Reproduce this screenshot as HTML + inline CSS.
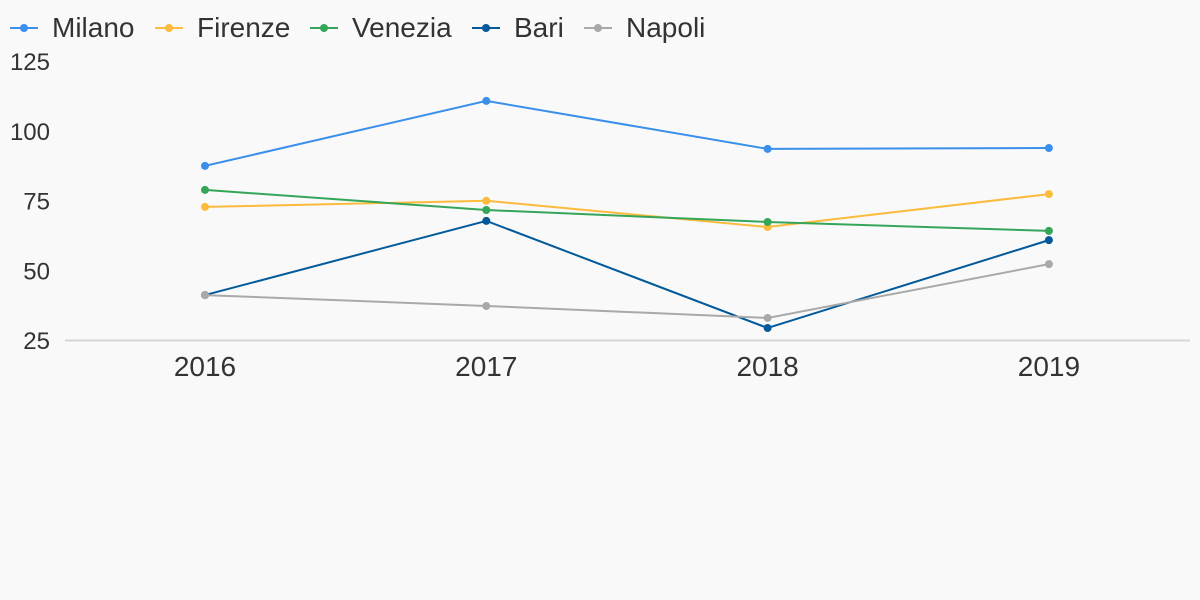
<!DOCTYPE html>
<html><head><meta charset="utf-8"><style>
html,body{margin:0;padding:0;background:#f9f9f9;}
svg{display:block;font-family:"Liberation Sans",sans-serif;}
</style></head><body>
<svg id="chart" width="1200" height="600">
<rect width="1200" height="600" fill="#f9f9f9"/>
<g id="legend"></g>
<g id="yaxis"></g>
<line x1="65" x2="1190" y1="340.5" y2="340.5" stroke="#d6d6d6" stroke-width="2"/>
<g id="xaxis"></g>
<g id="plot"></g>
</svg>
<script>
const categories = ["2016","2017","2018","2019"];
const seriesNames = ["Milano","Firenze","Venezia","Bari","Napoli"];
const milano = [87.4,110.7,93.5,93.8];
const firenze = [72.7,74.9,65.5,77.3];
const venezia = [78.8,71.6,67.3,64.1];
const bari = [41.1,67.7,29.3,60.8];
const napoli = [41.1,37.2,32.9,52.2];
const yTicks = [25,50,75,100,125];

const seriesData = [milano,firenze,venezia,bari,napoli];
const colors = ["#3a8fea","#fbbb3c","#35a55a","#035a9a","#a9a9a9"];
const NS = "http://www.w3.org/2000/svg";
function yScale(v){ return 340 - (v-25)*2.79; }
function xScale(i){ return 205 + i*281.3; }
function mk(tag, attrs, parent){ const e=document.createElementNS(NS,tag); for(const k in attrs) e.setAttribute(k,attrs[k]); parent.appendChild(e); return e; }

const yaxis=document.getElementById('yaxis');
yTicks.forEach(t=>{
  const e=mk('text',{x:50,y:yScale(t)+9,'text-anchor':'end','font-size':24,fill:'#333'},yaxis);
  e.textContent=t;
  
  
});
const xaxis=document.getElementById('xaxis');
categories.forEach((c,i)=>{
  const e=mk('text',{x:xScale(i),y:376,'text-anchor':'middle','font-size':28,fill:'#333'},xaxis);
  e.textContent=c;
  
  
});
const plot=document.getElementById('plot');
seriesData.forEach((vals,s)=>{
  const g=mk('g',{},plot);
  
  
  const pts=vals.map((v,i)=>xScale(i)+','+yScale(v)).join(' ');
  const pl=mk('polyline',{points:pts,fill:'none',stroke:colors[s],'stroke-width':2},g);
  
  
  vals.forEach((v,i)=>{
    const c=mk('circle',{cx:xScale(i),cy:yScale(v),r:4,fill:colors[s]},g);
    
    
  });
});
const legend=document.getElementById('legend');
const lx=[10,155,310,472,584];
seriesNames.forEach((n,s)=>{
  const g=mk('g',{},legend);
  
  
  mk('line',{x1:lx[s],x2:lx[s]+28,y1:28,y2:28,stroke:colors[s],'stroke-width':2},g);
  mk('circle',{cx:lx[s]+14,cy:28,r:4,fill:colors[s]},g);
  const t=mk('text',{x:lx[s]+42,y:37,'font-size':28,fill:'#333'},g);
  t.textContent=n;
});
</script>
</body></html>
